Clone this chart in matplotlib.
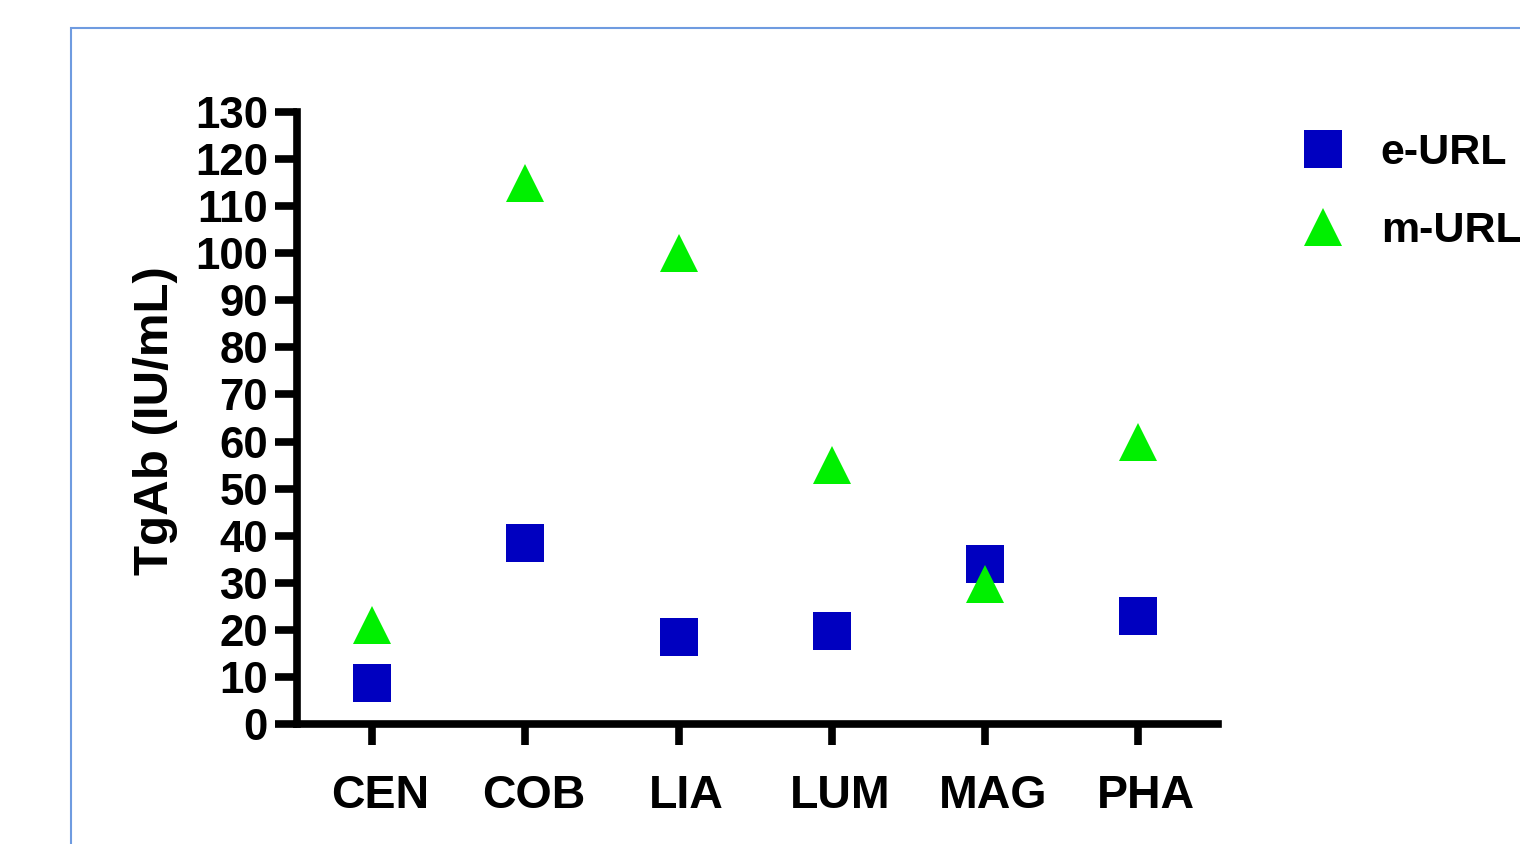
import matplotlib
matplotlib.use("Agg")
import matplotlib.pyplot as plt
from matplotlib.patches import Rectangle
import matplotlib.transforms as mtransforms

plt.rcParams['font.family'] = ['Liberation Sans', 'DejaVu Sans']
plt.rcParams['font.weight'] = 'bold'

categories = ["CEN", "COB", "LIA", "LUM", "MAG", "PHA"]
e_url = [8.7, 38.4, 18.5, 19.7, 34.0, 23.0]
m_url = [21.1, 115.0, 100.0, 55.0, 29.7, 59.8]
yticks = list(range(0, 131, 10))

W, H = 1520, 844
fig = plt.figure(figsize=(W / 100, H / 100), dpi=100)

# light blue frame
fig.add_artist(Rectangle((71 / W, -0.05), 1.2, 1 - 28 / H + 0.05, transform=fig.transFigure,
                         fill=False, edgecolor='#6f9be0', linewidth=1.5))

ax = fig.add_axes([297 / W, 1 - 724 / H, (1218 - 297) / W, (724 - 112) / H])
x = list(range(len(categories)))
ax.plot(x, e_url, linestyle='none', marker='s', markersize=27.5, color='#0000c0',
        markeredgewidth=0, label='e-URL', zorder=3)
ax.plot(x, m_url, linestyle='none', marker='^', markersize=27.5, color='#00f000',
        markeredgewidth=0, label='m-URL', zorder=4)

ax.set_xlim(-0.49, 5.52)
ax.set_ylim(0, 130)
ax.set_yticks(yticks)
ax.set_yticklabels([str(v) for v in yticks], fontsize=31.5, fontweight='bold')
ax.set_xticks(x)
ax.set_xticklabels([])

# category labels, slightly offset to the right as in the reference
offset = mtransforms.ScaledTranslation(8 / 100, -50 / 100, fig.dpi_scale_trans)
trans = ax.get_xaxis_transform() + offset
for xi, name in zip(x, categories):
    ax.text(xi, 0, name, transform=trans, ha='center', va='top',
            fontsize=33.5, fontweight='bold')

for s in ['top', 'right']:
    ax.spines[s].set_visible(False)
for s in ['left', 'bottom']:
    ax.spines[s].set_linewidth(5.5)
ax.tick_params(axis='y', length=16, width=5.5, pad=5, direction='out')
ax.tick_params(axis='x', length=15, width=5.5, pad=20, direction='out')

ax.set_ylabel('TgAb (IU/mL)', fontsize=35.5, fontweight='bold')
ax.yaxis.set_label_coords(-119 / (1218 - 297), 0.5 - (421 - 418) / 612)

leg = fig.legend(loc='upper left', bbox_to_anchor=(1301 / W, 1 - 133 / H),
                 frameon=False, handlelength=1.0, handletextpad=0.85,
                 labelspacing=0.89, borderaxespad=0, borderpad=0,
                 prop={'weight': 'bold', 'size': 31})

fig.savefig('out.png', dpi=100)
